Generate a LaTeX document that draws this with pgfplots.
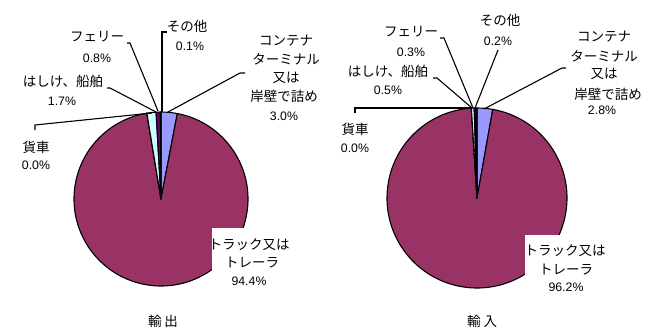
\documentclass[border=0pt]{standalone}
\usepackage{fontspec}
\setmainfont{Liberation Sans}
\newfontfamily\jp{Noto Sans CJK JP}
\usepackage{pgfplots}
\usepackage{pgfplotstable}
\pgfplotsset{compat=1.18}

\definecolor{c0}{HTML}{9999FF}
\definecolor{c1}{HTML}{993366}
\definecolor{c2}{HTML}{FFFFCC}
\definecolor{c3}{HTML}{CCFFFF}
\definecolor{c4}{HTML}{660066}
\definecolor{c5}{HTML}{FF8080}

% export shares (%): container, truck, wagon, barge, ferry, other
\pgfplotstableread{
value
3.0
94.4
0.0
1.7
0.8
0.1
}\exportdata
% import shares (%)
\pgfplotstableread{
value
2.8
96.2
0.0
0.5
0.3
0.2
}\importdata

\newcommand{\drawpie}[4]{%
  \def\cum{0}%
  \pgfplotsforeachungrouped \ii in {0,...,5}{%
    \pgfplotstablegetelem{\ii}{value}\of{#1}%
    \let\pv=\pgfplotsretval
    \pgfmathsetmacro\sa{90-3.6*\cum}%
    \pgfmathsetmacro\cum{\cum+\pv}%
    \pgfmathsetmacro\ea{90-3.6*\cum}%
    \edef\temp{\noexpand\filldraw[fill=c\ii, draw=black, line width=1.1bp, line join=round] (axis cs:#2,#3) -- ([shift={(\sa:#4bp)}]axis cs:#2,#3) arc[start angle=\sa, end angle=\ea, radius=#4bp] -- cycle;}%
    \temp
  }%
}
\newcommand{\jl}[3]{\node[font=\jp\fontsize{13.5bp}{15bp}\selectfont, inner sep=0pt] at (axis cs:#1,#2) {#3};}
\newcommand{\nl}[3]{\node[font=\fontsize{12.3bp}{14bp}\selectfont, inner sep=0pt] at (axis cs:#1,#2) {#3};}

\begin{document}
\begin{tikzpicture}
\begin{axis}[width=650bp,height=327bp,scale only axis,axis lines=none,
  xmin=0,xmax=650,ymin=0,ymax=327,y dir=reverse,clip=false]
\drawpie{\exportdata}{161}{199}{87}
\drawpie{\importdata}{477}{198}{90}
\coordinate (SW) at (rel axis cs:0,0);
\coordinate (NE) at (rel axis cs:1,1);
% leader lines, export
\draw[line width=1.1bp] (axis cs:167,32) -- (axis cs:162,32) -- (axis cs:162,112);
\draw[line width=1.1bp] (axis cs:127,43) -- (axis cs:130,43) -- (axis cs:158,111);
\draw[line width=1.1bp] (axis cs:107,88) -- (axis cs:110,88) -- (axis cs:156,112);
\draw[line width=1.1bp] (axis cs:35,130) -- (axis cs:35,125) -- (axis cs:152,113);
\draw[line width=1.1bp] (axis cs:245,73) -- (axis cs:240,73) -- (axis cs:168,112);
% leader lines, import
\draw[line width=1.1bp] (axis cs:498,50) -- (axis cs:475,108);
\draw[line width=1.1bp] (axis cs:440,38) -- (axis cs:444,38) -- (axis cs:473,108);
\draw[line width=1.1bp] (axis cs:433,78) -- (axis cs:437,78) -- (axis cs:472,108);
\draw[line width=1.1bp] (axis cs:355,113) -- (axis cs:355,108) -- (axis cs:471,108);
\draw[line width=1.1bp] (axis cs:566,68) -- (axis cs:562,68) -- (axis cs:484,109);
% white boxes
\fill[white] (axis cs:212,228) rectangle (axis cs:290,295);
\fill[white] (axis cs:525,235) rectangle (axis cs:607,300);
% export labels
\jl{187}{26}{その他}
\nl{190}{46}{0.1\%}
\jl{97}{37}{フェリー}
\nl{97}{58}{0.8\%}
\jl{63}{81}{はしけ、船舶}
\nl{62}{101}{1.7\%}
\jl{36}{147}{貨車}
\nl{36}{165}{0.0\%}
\jl{286}{41}{コンテナ}
\jl{286}{59}{ターミナル}
\jl{286}{78}{又は}
\jl{284}{96}{岸壁で詰め}
\nl{284}{116}{3.0\%}
\jl{249}{245}{トラック又は}
\jl{252}{263}{トレーラ}
\nl{249}{281}{94.4\%}
% import labels
\jl{500}{20}{その他}
\nl{498}{41}{0.2\%}
\jl{411}{32}{フェリー}
\nl{411}{52}{0.3\%}
\jl{388}{71}{はしけ、船舶}
\nl{388}{90}{0.5\%}
\jl{355}{129}{貨車}
\nl{355}{148}{0.0\%}
\jl{604}{37}{コンテナ}
\jl{604}{56}{ターミナル}
\jl{604}{74}{又は}
\jl{608}{94}{岸壁で詰め}
\nl{602}{110}{2.8\%}
\jl{565}{251}{トラック又は}
\jl{566}{270}{トレーラ}
\nl{566}{287}{96.2\%}
% titles
\jl{163}{321}{輸\hspace{3bp}出}
\jl{482}{321}{輸\hspace{3bp}入}
\end{axis}
\pgfresetboundingbox
\path[use as bounding box] (SW) rectangle (NE);
\end{tikzpicture}
\end{document}
